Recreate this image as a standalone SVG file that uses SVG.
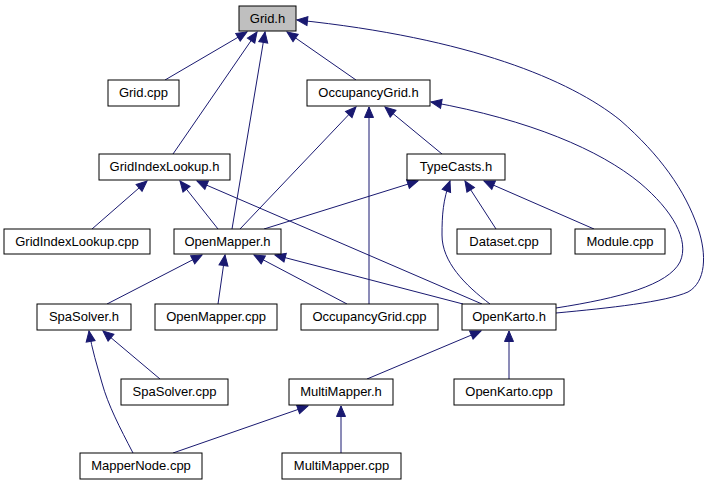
<svg xmlns="http://www.w3.org/2000/svg" width="708" height="485" viewBox="0 0 708 485">
<style>
.n rect{fill:#ffffff;stroke:#000000;stroke-width:1}
.n.root rect{fill:#bfbfbf}
.n text{font-family:"Liberation Sans",Arial,Helvetica,sans-serif;font-size:13px;fill:#000000;text-anchor:middle}
.e path{fill:none;stroke:#191970;stroke-width:1;marker-end:url(#ah)}
</style>
<defs>
<marker id="ah" markerUnits="userSpaceOnUse" markerWidth="13" markerHeight="12" viewBox="0 -6 12 12" refX="11" refY="0" orient="auto">
<path d="M0.5,-4.5 L11,0 L0.5,4.5 z" fill="#191970" stroke="#191970" stroke-width="1"/>
</marker>
</defs>
<rect width="708" height="485" fill="#ffffff"/>
<g id="edges" class="e">
<path d="M165,80 L247,32"/>
<path d="M173,154 L257,32"/>
<path d="M232,229 L265,32"/>
<path d="M356,80 L287,32"/>
<path d="M556,313 C610,308 665,302 688,292 C706,282 707,255 698,228 C685,190 660,155 620,120 C570,80 470,38 297,20"/>
<path d="M556,308 C620,298 668,285 680,262 C690,240 672,210 640,183 C600,150 530,120 431,102"/>
<path d="M240,229 L356,107"/>
<path d="M369,304 L369,107"/>
<path d="M442,154 L385,107"/>
<path d="M92,229 L147,181"/>
<path d="M218,229 L180,181"/>
<path d="M482,304 L197,181"/>
<path d="M264,229 L418,181"/>
<path d="M490,304 C465,285 442,262 442,235 C442,215 443,200 450,181"/>
<path d="M496,229 L465,181"/>
<path d="M594,229 L484,181"/>
<path d="M107,304 L202,255"/>
<path d="M218,304 L225,255"/>
<path d="M347,304 L254,255"/>
<path d="M463,304 L275,255"/>
<path d="M160,379 L103,331"/>
<path d="M133,453 C120,428 108,405 102,383 C97,365 92,350 89,331"/>
<path d="M367,379 L481,331"/>
<path d="M509,379 L509,331"/>
<path d="M173,453 L308,406"/>
<path d="M341,453 L341,406"/>
</g>
<g id="grid_h" class="n root"><rect x="239" y="6" width="57" height="25"/><text x="267.5" y="22.5">Grid.h</text></g>
<g id="grid_cpp" class="n"><rect x="108" y="80" width="71" height="26"/><text x="143.5" y="97">Grid.cpp</text></g>
<g id="occupancygrid_h" class="n"><rect x="307" y="80" width="123" height="26"/><text x="368.5" y="97">OccupancyGrid.h</text></g>
<g id="gridindexlookup_h" class="n"><rect x="99" y="154" width="131" height="26"/><text x="164.5" y="171">GridIndexLookup.h</text></g>
<g id="typecasts_h" class="n"><rect x="407" y="154" width="98" height="26"/><text x="456" y="171">TypeCasts.h</text></g>
<g id="gridindexlookup_cpp" class="n"><rect x="4" y="229" width="146" height="25"/><text x="77" y="246">GridIndexLookup.cpp</text></g>
<g id="openmapper_h" class="n"><rect x="174" y="229" width="107" height="25"/><text x="227.5" y="246">OpenMapper.h</text></g>
<g id="dataset_cpp" class="n"><rect x="457" y="229" width="94" height="25"/><text x="504" y="246">Dataset.cpp</text></g>
<g id="module_cpp" class="n"><rect x="575" y="229" width="90" height="25"/><text x="620" y="246">Module.cpp</text></g>
<g id="spasolver_h" class="n"><rect x="37" y="304" width="94" height="26"/><text x="84" y="321">SpaSolver.h</text></g>
<g id="openmapper_cpp" class="n"><rect x="155" y="304" width="122" height="26"/><text x="216" y="321">OpenMapper.cpp</text></g>
<g id="occupancygrid_cpp" class="n"><rect x="301" y="304" width="137" height="26"/><text x="369.5" y="321">OccupancyGrid.cpp</text></g>
<g id="openkarto_h" class="n"><rect x="462" y="304" width="94" height="26"/><text x="509" y="321">OpenKarto.h</text></g>
<g id="spasolver_cpp" class="n"><rect x="121" y="379" width="107" height="26"/><text x="174.5" y="396">SpaSolver.cpp</text></g>
<g id="multimapper_h" class="n"><rect x="289" y="379" width="104" height="26"/><text x="341" y="396">MultiMapper.h</text></g>
<g id="openkarto_cpp" class="n"><rect x="454" y="379" width="110" height="26"/><text x="509" y="396">OpenKarto.cpp</text></g>
<g id="mappernode_cpp" class="n"><rect x="80" y="453" width="122" height="26"/><text x="141" y="470">MapperNode.cpp</text></g>
<g id="multimapper_cpp" class="n"><rect x="282" y="453" width="119" height="26"/><text x="341.5" y="470">MultiMapper.cpp</text></g>
</svg>
